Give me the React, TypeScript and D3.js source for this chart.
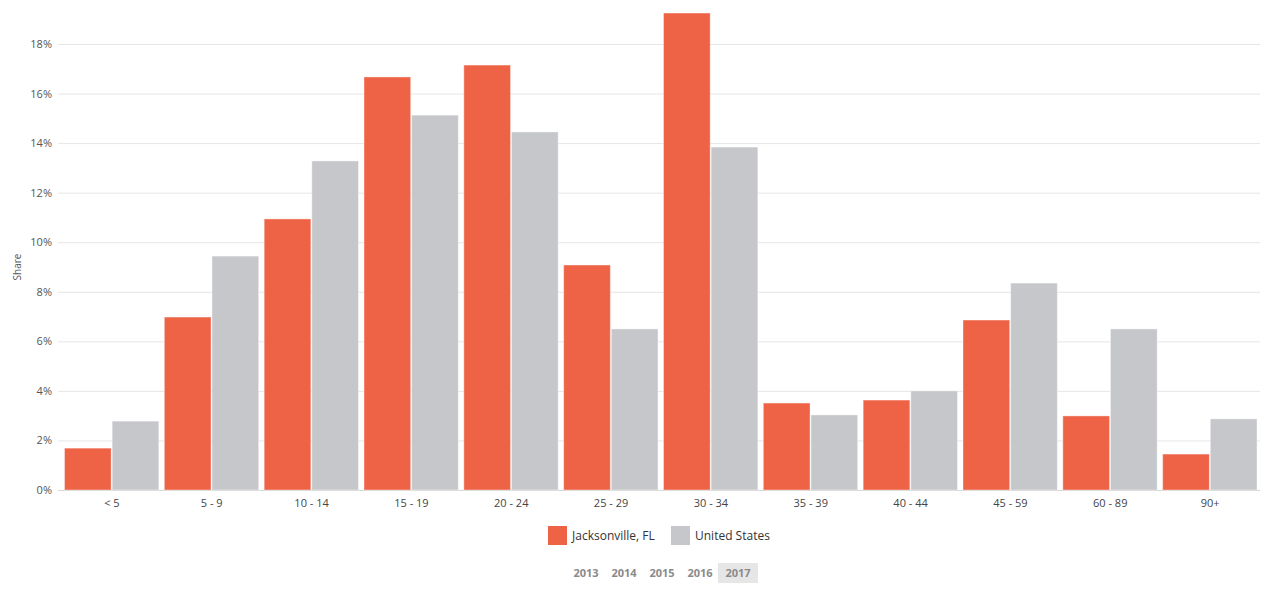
import { useEffect, useRef } from "react";
import * as d3 from "d3";

const categories = ["< 5", "5 - 9", "10 - 14", "15 - 19", "20 - 24", "25 - 29", "30 - 34", "35 - 39", "40 - 44", "45 - 59", "60 - 89", "90+"];
const jacksonville = [1.69, 6.98, 10.94, 16.67, 17.15, 9.08, 19.25, 3.51, 3.63, 6.86, 2.99, 1.45];
const unitedStates = [2.78, 9.44, 13.28, 15.13, 14.45, 6.5, 13.84, 3.03, 4.0, 8.35, 6.5, 2.87];
const seriesNames = ["Jacksonville, FL", "United States"];
const yTicks = [0, 2, 4, 6, 8, 10, 12, 14, 16, 18];
const years = ["2013", "2014", "2015", "2016", "2017"];

const colors = ["#EE6246", "#C6C7CA"];
const font = "'Segoe UI', 'Open Sans', sans-serif";

export default function App() {
  const ref = useRef<SVGSVGElement | null>(null);

  useEffect(() => {
    const width = 1266,
      height = 591,
      margin = { top: 44, right: 8, bottom: 101, left: 60 };
    const svg = d3.select(ref.current);
    svg.selectAll("*").remove();

    const x = d3
      .scaleBand()
      .domain(categories)
      .range([margin.left, width - margin.right])
      .paddingInner(0)
      .paddingOuter(0);
    const inner = d3
      .scaleBand()
      .domain(seriesNames)
      .range([4.5, x.bandwidth() - 1])
      .paddingInner(0.02);
    const y = d3
      .scaleLinear()
      .domain([0, 18])
      .range([height - margin.bottom, margin.top]);

    // gridlines
    svg
      .append("g")
      .selectAll("line")
      .data(yTicks)
      .enter()
      .append("line")
      .attr("x1", margin.left - 2)
      .attr("x2", width - 6)
      .attr("y1", d => y(d) + 0.5)
      .attr("y2", d => y(d) + 0.5)
      .attr("stroke", d => (d === 0 ? "#d6d6d6" : "#e6e6e6"))
      .attr("stroke-width", 1);

    // y labels
    svg
      .append("g")
      .selectAll("text")
      .data(yTicks)
      .enter()
      .append("text")
      .attr("x", 52)
      .attr("y", d => y(d) + 4)
      .attr("text-anchor", "end")
      .attr("font-family", font)
      .attr("font-size", 11)
      .attr("fill", "#555")
      .text(d => `${d}%`);

    svg
      .append("text")
      .attr("transform", `translate(21,${y(9)}) rotate(-90)`)
      .attr("text-anchor", "middle")
      .attr("font-family", font)
      .attr("font-size", 10)
      .attr("fill", "#555")
      .text("Share");

    // bars
    const series = [jacksonville, unitedStates];
    series.forEach((vals, si) => {
      svg
        .append("g")
        .selectAll("rect")
        .data(vals)
        .enter()
        .append("rect")
        .attr("x", (_, i) => (x(categories[i]) ?? 0) + (inner(seriesNames[si]) ?? 0))
        .attr("y", d => y(d))
        .attr("width", inner.bandwidth())
        .attr("height", d => y(0) - y(d))
        .attr("fill", colors[si])
        .attr("stroke", "#ffffff")
        .attr("stroke-opacity", 0.4)
        .attr("stroke-width", 1);
    });

    // x labels
    svg
      .append("g")
      .selectAll("text")
      .data(categories)
      .enter()
      .append("text")
      .attr("x", d => (x(d) ?? 0) + x.bandwidth() / 2 + 2)
      .attr("y", 507)
      .attr("text-anchor", "middle")
      .attr("font-family", font)
      .attr("font-size", 11)
      .attr("fill", "#444")
      .text(d => d);

    // legend
    const legendX = [548, 671];
    seriesNames.forEach((name, i) => {
      svg
        .append("rect")
        .attr("x", legendX[i])
        .attr("y", 526)
        .attr("width", 19)
        .attr("height", 19)
        .attr("fill", colors[i]);
      svg
        .append("text")
        .attr("x", legendX[i] + 24)
        .attr("y", 540)
        .attr("font-family", font)
        .attr("font-size", 12)
        .attr("fill", "#333")
        .text(name);
    });

    // year selector
    const yearX = d3.scalePoint().domain(years).range([586, 738]);
    svg
      .append("rect")
      .attr("x", 718)
      .attr("y", 563)
      .attr("width", 40)
      .attr("height", 20)
      .attr("fill", "#e6e6e6");
    svg
      .append("g")
      .selectAll("text")
      .data(years)
      .enter()
      .append("text")
      .attr("x", d => yearX(d) ?? 0)
      .attr("y", 577)
      .attr("text-anchor", "middle")
      .attr("font-family", font)
      .attr("font-size", 11)
      .attr("font-weight", "bold")
      .attr("fill", "#8a8a8a")
      .text(d => d);
  }, []);

  return (
    <svg
      ref={ref}
      width={1266}
      height={591}
      style={{ position: "absolute", left: 0, top: 0, background: "#fff" }}
    />
  );
}
